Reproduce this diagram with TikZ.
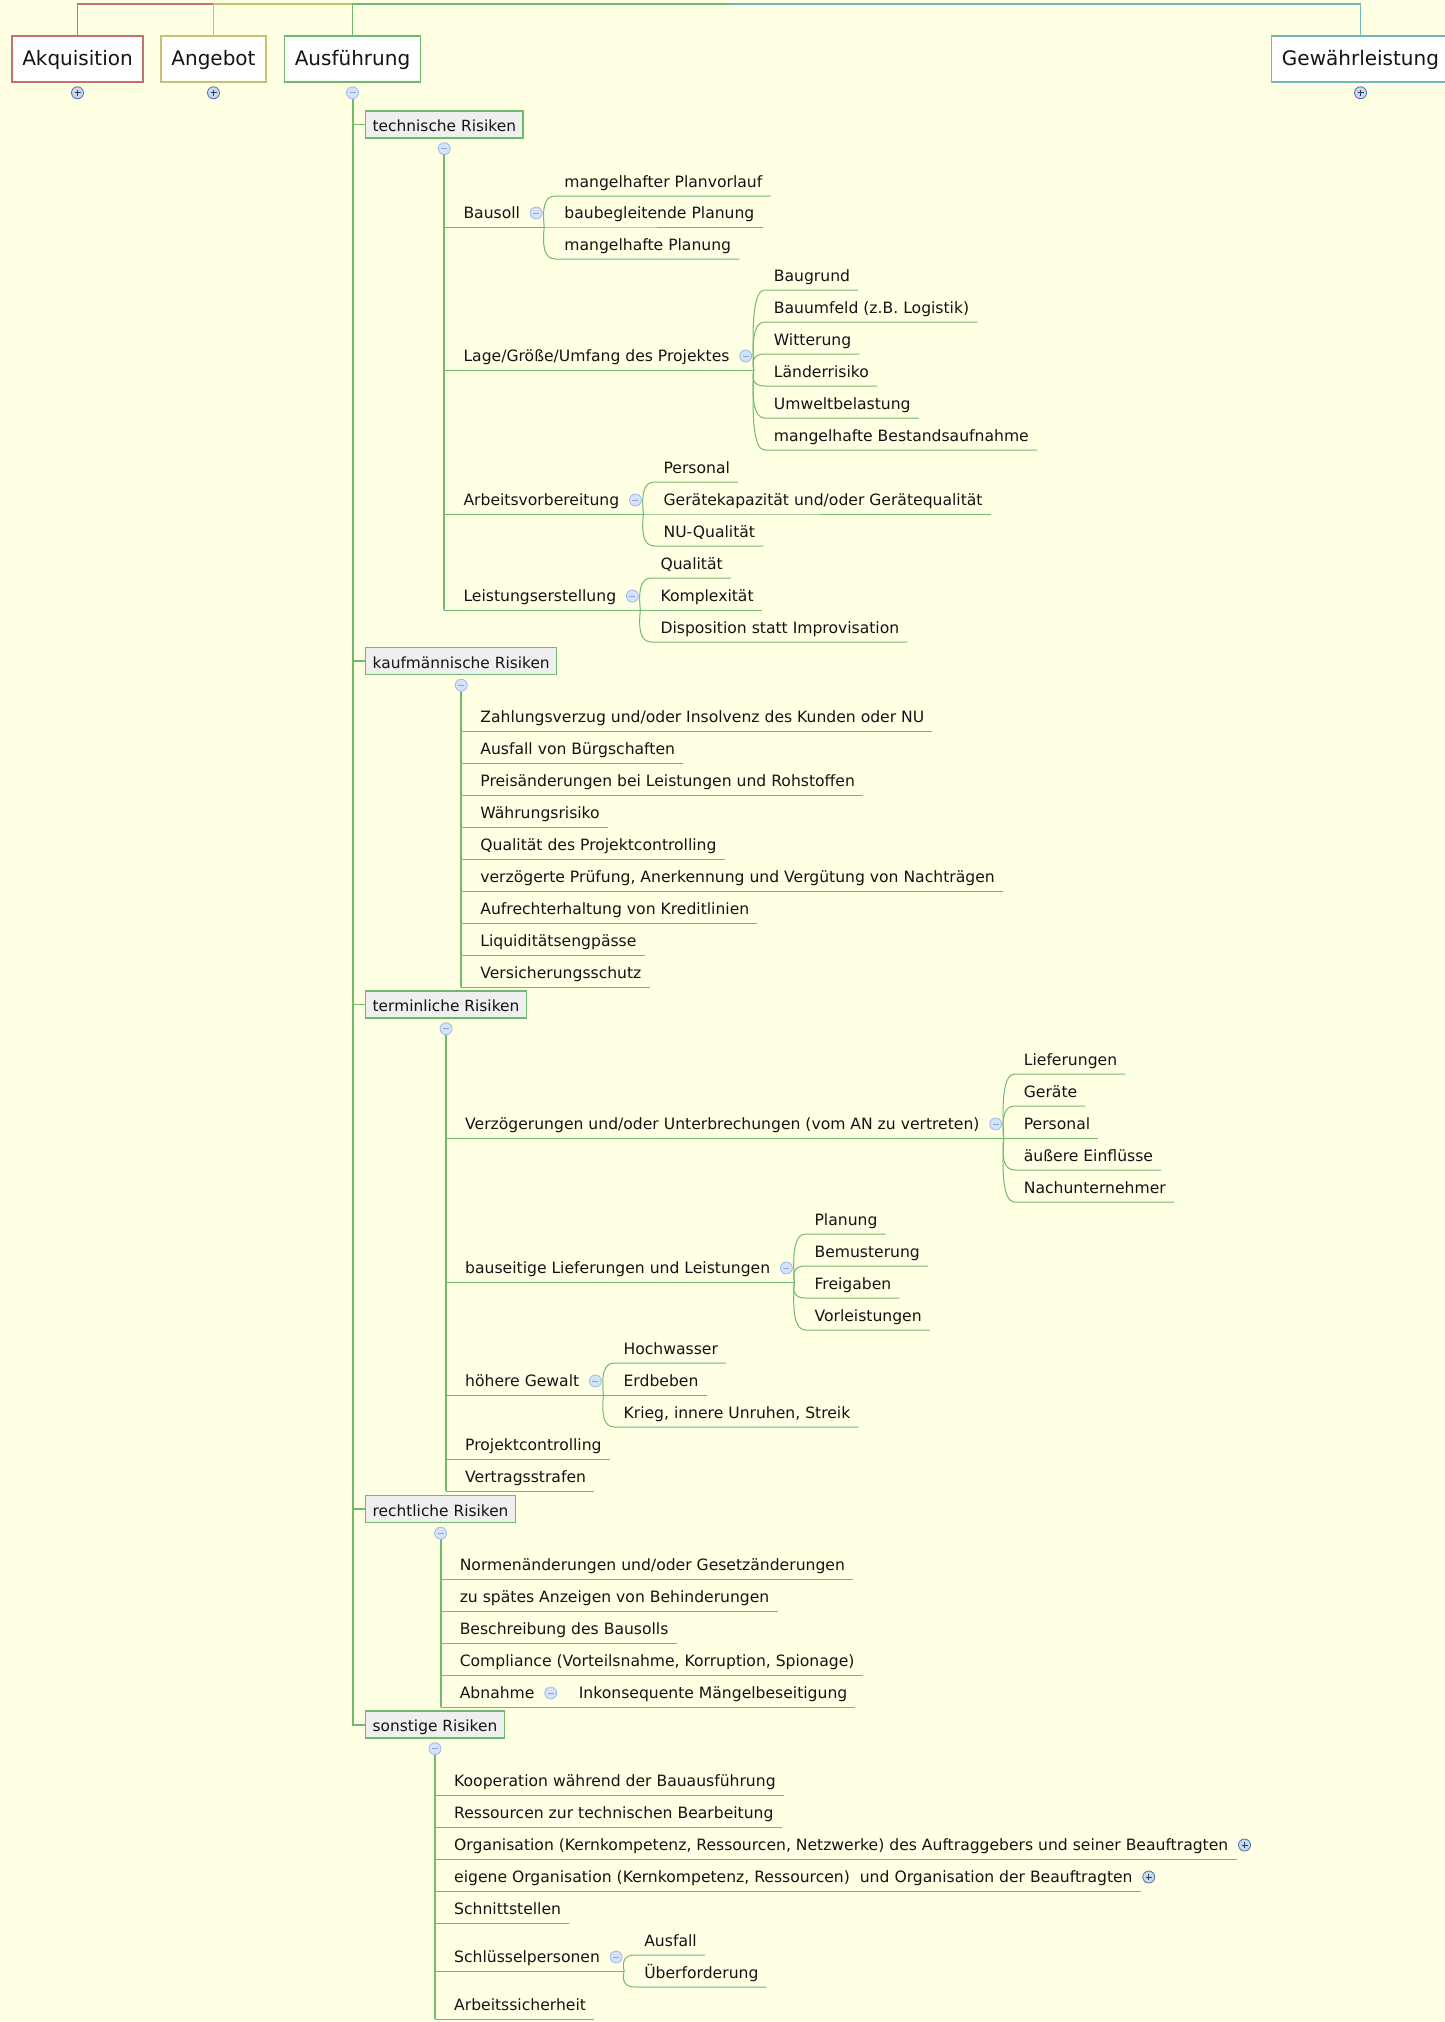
\documentclass[tikz,border=0pt]{standalone}
\usepackage{fontspec}
\setmainfont{DejaVu Sans}
\usetikzlibrary{calc}
\definecolor{bg}{RGB}{255,255,228}
\definecolor{cred}{RGB}{200,112,112}
\definecolor{colive}{RGB}{198,192,112}
\definecolor{cgreen}{RGB}{112,186,112}
\definecolor{cteal}{RGB}{112,184,184}
\definecolor{secfill}{RGB}{239,239,239}
\definecolor{txt}{RGB}{20,20,20}
\definecolor{mfill}{RGB}{212,226,250}
\definecolor{mdraw}{RGB}{160,186,232}
\definecolor{msign}{RGB}{140,165,215}
\definecolor{pfill}{RGB}{200,216,240}
\definecolor{pdraw}{RGB}{80,110,160}
\definecolor{psign}{RGB}{40,60,100}
\tikzset{
 itm/.style={anchor=base west, inner sep=0pt, text=txt, font=\fontsize{15.6}{18}\selectfont},
 uline/.style={draw=cgreen, line width=1pt},
 vline/.style={draw=cgreen, line width=2pt},
 conn/.style={draw=cgreen, line width=1.5pt},
 secbox/.style={anchor=west, draw=cgreen, fill=secfill, line width=1.4pt, inner xsep=7pt, inner ysep=0pt, minimum height=27pt, text height=14pt, text depth=0pt, text=txt, font=\fontsize{15.4}{18}\selectfont},
 topbox/.style={draw=#1, fill=white, line width=1.5pt, inner xsep=10.5pt, inner ysep=0pt, minimum height=46pt, text height=13.4pt, text depth=0pt, text=txt, font=\fontsize{20}{24}\selectfont},
 minusc/.style={circle, inner sep=0pt, minimum size=12pt, fill=mfill, draw=mdraw, line width=0.8pt,
   path picture={\draw[msign, line width=1pt] (path picture bounding box.center) +(-3pt,0pt) -- +(3pt,0pt);}},
 plusc/.style={circle, inner sep=0pt, minimum size=12pt, fill=pfill, draw=pdraw, line width=0.8pt,
   path picture={\draw[psign, line width=1pt] (path picture bounding box.center) +(-3pt,0pt) -- +(3pt,0pt) (path picture bounding box.center) +(0pt,-3pt) -- +(0pt,3pt);}},
}
% item: name, vertical coordinate, underline y, text
\newcommand\itm[4]{%
  \coordinate (#1U) at (0,#3);
  \coordinate (#1L) at (#2 |- #1U);
  \node[itm] (#1) at ($(#1L)+(19,-9)$) {#4};
  \coordinate (#1R) at ($(#1.base east)+(8,9)$);
  \draw[uline] (#1L) -- (#1R);}
\newcommand\itmp[4]{\itm{#1}{#2}{#3}{#4}%
  \node[plusc] (#1c) at ($(#1.base east)+(16,-5)$) {};}
% parent with children
\newcommand\prt[4]{%
  \coordinate (#1U) at (0,#3);
  \coordinate (#1L) at (#2 |- #1U);
  \node[itm] (#1) at ($(#1L)+(19,-9)$) {#4};
  \node[minusc] (#1c) at ($(#1.base east)+(16,-5)$) {};
  \coordinate (#1S) at ($(#1c)+(8,14)$);
  \draw[uline] (#1L) -- (#1S);}
% child: name, parent, dy, text
\newcommand\chld[4]{%
  \node[itm] (#1) at ($(#2S)+(20,{#3-9})$) {#4};
  \coordinate (#1L) at ($(#2S)+(11,#3)$);
  \coordinate (#1R) at ($(#1.base east)+(8,9)$);
  \draw[uline] (#2S) .. controls ($(#2S)+(-2,{0.6*(#3)})$) and ($(#2S)+(0,#3)$) .. (#1L) -- (#1R);}
\begin{document}
\begin{tikzpicture}[x=1pt,y=-1pt]
\useasboundingbox (0,0) rectangle (1445,2022);
\fill[bg] (0,0) rectangle (1445,2022);
\clip (0,0) rectangle (1445,2022);
% top level
\node[topbox=cred] (akq) at (77.5,59) {Akquisition};
\node[topbox=colive] (ang) at (213.5,59) {Angebot};
\node[topbox=cgreen] (ausf) at (352.5,59) {Ausführung};
\node[topbox=cteal] (gew) at (1360.5,59) {Gewährleistung};
\coordinate (ct) at (730,4);
\draw[cred, line width=1.5pt] (ct) -| (akq.north);
\draw[colive, line width=1.5pt] (ct) -| (ang.north);
\draw[cgreen, line width=1.5pt] (ct) -| (ausf.north);
\draw[cteal, line width=1.5pt] (ct) -| (gew.north);
\coordinate (ausc) at ($(ausf.south)+(0,10)$);
% sections
\node[secbox] (tr) at (365,124.5) {technische Risiken};
\node[secbox] (kr) at (365,661) {kaufmännische Risiken};
\node[secbox] (tm) at (365,1004.5) {terminliche Risiken};
\node[secbox] (re) at (365,1509) {rechtliche Risiken};
\node[secbox] (so) at (365,1724.5) {sonstige Risiken};
\draw[vline] (ausc) -- (ausc |- so.west) -- (so.west);
\draw[conn] (ausc |- tr.west) -- (tr.west);
\draw[conn] (ausc |- kr.west) -- (kr.west);
\draw[conn] (ausc |- tm.west) -- (tm.west);
\draw[conn] (ausc |- re.west) -- (re.west);
\coordinate (trc) at ($(tr.south)+(0,10)$);
\coordinate (krc) at ($(kr.south)+(0,10)$);
\coordinate (tmc) at ($(tm.south)+(0,10)$);
\coordinate (rec) at ($(re.south)+(0,10)$);
\coordinate (soc) at ($(so.south)+(0,10)$);
% technische Risiken
\prt{bs}{trc}{227}{Bausoll}
\chld{bsa}{bs}{-31}{mangelhafter Planvorlauf}
\chld{bsb}{bs}{0}{baubegleitende Planung}
\chld{bsc}{bs}{32}{mangelhafte Planung}
\prt{lg}{trc}{370}{Lage/Größe/Umfang des Projektes}
\chld{lga}{lg}{-80}{Baugrund}
\chld{lgb}{lg}{-48}{Bauumfeld (z.B. Logistik)}
\chld{lgc}{lg}{-16}{Witterung}
\chld{lgd}{lg}{16}{Länderrisiko}
\chld{lge}{lg}{48}{Umweltbelastung}
\chld{lgf}{lg}{80}{mangelhafte Bestandsaufnahme}
\prt{av}{trc}{514}{Arbeitsvorbereitung}
\chld{ava}{av}{-32}{Personal}
\chld{avb}{av}{0}{Gerätekapazität und/oder Gerätequalität}
\chld{avc}{av}{32}{NU-Qualität}
\prt{le}{trc}{610}{Leistungserstellung}
\chld{lea}{le}{-32}{Qualität}
\chld{leb}{le}{0}{Komplexität}
\chld{lec}{le}{32}{Disposition statt Improvisation}
\draw[vline] (trc) -- (leL);
% kaufmaennische Risiken
\itm{ka}{krc}{731}{Zahlungsverzug und/oder Insolvenz des Kunden oder NU}
\itm{kb}{krc}{763}{Ausfall von Bürgschaften}
\itm{kc}{krc}{795}{Preisänderungen bei Leistungen und Rohstoffen}
\itm{kd}{krc}{827}{Währungsrisiko}
\itm{ke}{krc}{859}{Qualität des Projektcontrolling}
\itm{kf}{krc}{891}{verzögerte Prüfung, Anerkennung und Vergütung von Nachträgen}
\itm{kg}{krc}{923}{Aufrechterhaltung von Kreditlinien}
\itm{kh}{krc}{955}{Liquiditätsengpässe}
\itm{ki}{krc}{987}{Versicherungsschutz}
\draw[vline] (krc) -- (kiL);
% terminliche Risiken
\prt{vz}{tmc}{1138}{Verzögerungen und/oder Unterbrechungen (vom AN zu vertreten)}
\chld{vza}{vz}{-64}{Lieferungen}
\chld{vzb}{vz}{-32}{Geräte}
\chld{vzc}{vz}{0}{Personal}
\chld{vzd}{vz}{32}{äußere Einflüsse}
\chld{vze}{vz}{64}{Nachunternehmer}
\prt{bl}{tmc}{1282}{bauseitige Lieferungen und Leistungen}
\chld{bla}{bl}{-48}{Planung}
\chld{blb}{bl}{-16}{Bemusterung}
\chld{blc}{bl}{16}{Freigaben}
\chld{bld}{bl}{48}{Vorleistungen}
\prt{hg}{tmc}{1395}{höhere Gewalt}
\chld{hga}{hg}{-32}{Hochwasser}
\chld{hgb}{hg}{0}{Erdbeben}
\chld{hgc}{hg}{32}{Krieg, innere Unruhen, Streik}
\itm{pc}{tmc}{1459}{Projektcontrolling}
\itm{vs}{tmc}{1491}{Vertragsstrafen}
\draw[vline] (tmc) -- (vsL);
% rechtliche Risiken
\itm{ra}{rec}{1579}{Normenänderungen und/oder Gesetzänderungen}
\itm{rb}{rec}{1611}{zu spätes Anzeigen von Behinderungen}
\itm{rc}{rec}{1643}{Beschreibung des Bausolls}
\itm{rd}{rec}{1675}{Compliance (Vorteilsnahme, Korruption, Spionage)}
\prt{ab}{rec}{1707}{Abnahme}
\chld{aba}{ab}{0}{Inkonsequente Mängelbeseitigung}
\draw[vline] (rec) -- (abL);
% sonstige Risiken
\itm{sa}{soc}{1795}{Kooperation während der Bauausführung}
\itm{sb}{soc}{1827}{Ressourcen zur technischen Bearbeitung}
\itmp{sc}{soc}{1859}{Organisation (Kernkompetenz, Ressourcen, Netzwerke) des Auftraggebers und seiner Beauftragten}
\itmp{sd}{soc}{1891}{eigene Organisation (Kernkompetenz, Ressourcen)\ \ und Organisation der Beauftragten}
\itm{se}{soc}{1923}{Schnittstellen}
\prt{sp}{soc}{1971}{Schlüsselpersonen}
\chld{spa}{sp}{-16}{Ausfall}
\chld{spb}{sp}{16}{Überforderung}
\itm{sf}{soc}{2019}{Arbeitssicherheit}
\draw[vline] (soc) -- (sfL);
% expand/collapse markers
\node[plusc] (akqc) at ($(akq.south)+(0,10)$) {};
\node[plusc] (angc) at ($(ang.south)+(0,10)$) {};
\node[plusc] (gewc) at ($(gew.south)+(0,10)$) {};
\node[minusc] (ausm) at (ausc) {};
\node[minusc] (trm) at (trc) {};
\node[minusc] (krm) at (krc) {};
\node[minusc] (tmm) at (tmc) {};
\node[minusc] (rem) at (rec) {};
\node[minusc] (som) at (soc) {};
\end{tikzpicture}
\end{document}
